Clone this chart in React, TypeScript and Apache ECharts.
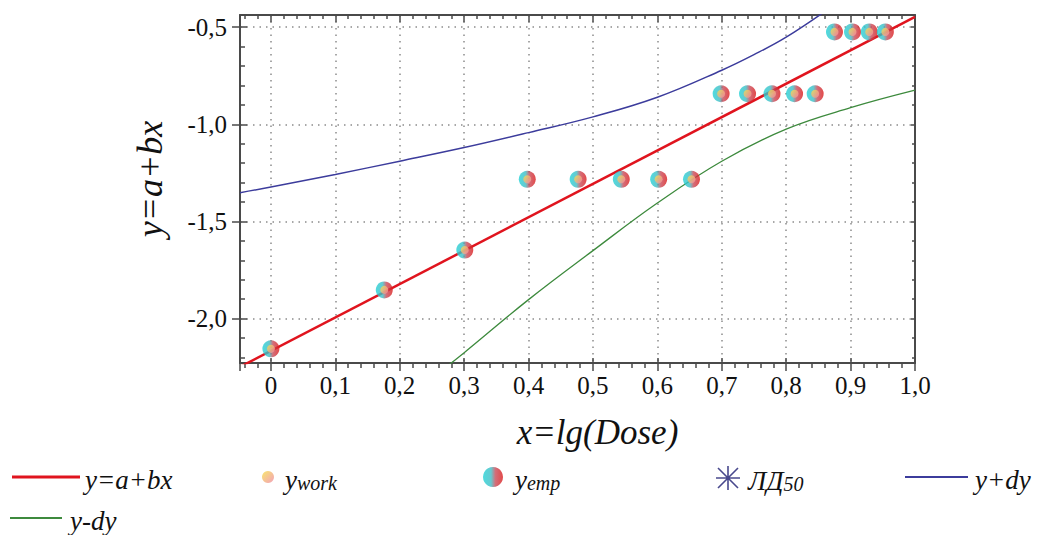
import React, { useEffect, useRef } from 'react';
import * as echarts from 'echarts';

// ---- data ----
const doseLg = [0, 0.176, 0.301, 0.398, 0.477, 0.544, 0.602, 0.653, 0.699, 0.74, 0.778, 0.813, 0.845, 0.875, 0.903, 0.929, 0.954];
const yEmp = [-2.155, -1.852, -1.647, -1.283, -1.283, -1.283, -1.283, -1.283, -0.843, -0.843, -0.843, -0.843, -0.843, -0.525, -0.525, -0.525, -0.525];
const yWork = [-2.155, -1.852, -1.647, -1.283, -1.283, -1.283, -1.283, -1.283, -0.843, -0.843, -0.843, -0.843, -0.843, -0.525, -0.525, -0.525, -0.525];
const fitX = [-0.048, 1.0];
const fitY = [-2.248, -0.448];
const upperX = [-0.048, 0, 0.1, 0.2, 0.3, 0.4, 0.5, 0.6, 0.7, 0.75, 0.8, 0.86];
const upperY = [-1.352, -1.323, -1.258, -1.19, -1.12, -1.043, -0.962, -0.861, -0.722, -0.642, -0.552, -0.42];
const lowerX = [0.26, 0.3, 0.4, 0.5, 0.6, 0.7, 0.8, 0.9, 1.0];
const lowerY = [-2.28, -2.175, -1.902, -1.65, -1.405, -1.19, -1.025, -0.915, -0.825];
const xRange = [-0.048, 1.0];
const yRange = [-2.228, -0.438];
const seriesNames = ['y=a+bx', 'ywork', 'yemp', 'ЛД50', 'y+dy', 'y-dy'];
const xTitle = 'x=lg(Dose)';
const yTitle = 'y=a+bx';

const zip = (xs: number[], ys: number[]) => xs.map((x, i) => [x, ys[i]]);

const SERIF = "'Liberation Serif', 'Times New Roman', Times, serif";
const AX = '#4a4a4a';
const fmt = (v: number) => (Math.abs(v) < 1e-9 ? '0' : v.toFixed(1).replace('.', ','));

const starPath =
  'path://M-0.8,-12 L0.8,-12 L0.8,12 L-0.8,12 Z ' +
  'M-12,-0.8 L12,-0.8 L12,0.8 L-12,0.8 Z ' +
  'M-9.43,-10.57 L10.57,9.43 L9.43,10.57 L-10.57,-9.43 Z ' +
  'M-10.57,9.43 L9.43,-10.57 L10.57,-9.43 L-9.43,10.57 Z';

const empColor = {
  type: 'linear', x: 0, y: 0, x2: 1, y2: 0,
  colorStops: [
    { offset: 0, color: '#22d2d6' },
    { offset: 0.4, color: '#3fbcc4' },
    { offset: 0.62, color: '#c84a58' },
    { offset: 1, color: '#dc1c1c' },
  ],
};
const workColor = {
  type: 'linear', x: 0, y: 0, x2: 1, y2: 1,
  colorStops: [
    { offset: 0, color: '#f6e04a' },
    { offset: 1, color: '#f08aa8' },
  ],
};

const rich = {
  b: { fontFamily: SERIF, fontStyle: 'italic', fontSize: 27, lineHeight: 32, color: '#111', verticalAlign: 'bottom' },
  s: { fontFamily: SERIF, fontStyle: 'italic', fontSize: 20, lineHeight: 20, color: '#111', verticalAlign: 'bottom' },
};

const legendFormatter = (name: string) => {
  if (name === 'ywork') return '{b|y}{s|work}';
  if (name === 'yemp') return '{b|y}{s|emp}';
  if (name === 'ЛД50') return '{b|ЛД}{s|50}';
  return '{b|' + name + '}';
};

function mkLegend(name: string, left: number, top: number, w: number, h: number, pad: number, icon: string) {
  return {
    show: true,
    selectedMode: false,
    left,
    top,
    padding: 0,
    itemWidth: w,
    itemHeight: h,
    data: [{ name, icon }],
    formatter: legendFormatter,
    textStyle: { rich, padding: [0, 0, 0, pad] },
  };
}

export default function App() {
  const ref = useRef<HTMLDivElement>(null);
  useEffect(() => {
    if (!ref.current) return;
    const chart = echarts.init(ref.current, undefined, { renderer: 'svg' });
    const labelStyle = { fontFamily: SERIF, fontSize: 25, color: '#111' };
    const lineSt = { color: AX, width: 2 };
    const tickSt = { color: AX, width: 1.5 };
    const split = { show: true, lineStyle: { color: '#8c8c8c', width: 1.5, type: [1.5, 5] } };
    const base = (min: number, max: number, splitNumber: number) => ({
      type: 'value', min, max, splitNumber, scale: true,
    });
    const option: any = {
      animation: false,
      backgroundColor: '#ffffff',
      textStyle: { fontFamily: SERIF },
      grid: { left: 240, right: 134, top: 15, bottom: 172, containLabel: false },
      xAxis: [
        {
          ...base(xRange[0], xRange[1], 10),
          position: 'bottom',
          axisLine: { show: true, onZero: false, lineStyle: lineSt },
          axisTick: { show: true, inside: false, length: 8, lineStyle: tickSt },
          minorTick: { show: true, splitNumber: 5, length: 5, lineStyle: tickSt },
          axisLabel: { ...labelStyle, margin: 10, formatter: fmt, showMinLabel: false, showMaxLabel: true },
          splitLine: split,
          name: xTitle,
          nameLocation: 'middle',
          nameGap: 52,
          nameTextStyle: { fontFamily: SERIF, fontStyle: 'italic', fontSize: 35, color: '#111', padding: [0, 0, 0, 40] },
        },
        {
          ...base(xRange[0], xRange[1], 10),
          position: 'bottom',
          axisLine: { show: false, onZero: false },
          axisTick: { show: true, inside: true, length: 5, lineStyle: tickSt },
          axisLabel: { show: false },
          splitLine: { show: false },
        },
        {
          ...base(xRange[0], xRange[1], 10),
          position: 'top',
          axisLine: { show: true, onZero: false, lineStyle: lineSt },
          axisTick: { show: true, inside: true, length: 7, lineStyle: tickSt },
          minorTick: { show: true, splitNumber: 5, length: 4, lineStyle: tickSt },
          axisLabel: { show: false },
          splitLine: { show: false },
        },
      ],
      yAxis: [
        {
          ...base(yRange[0], yRange[1], 4),
          position: 'left',
          axisLine: { show: true, onZero: false, lineStyle: lineSt },
          axisTick: { show: true, inside: false, length: 8, lineStyle: tickSt },
          axisLabel: { ...labelStyle, margin: 13, formatter: fmt, showMinLabel: false, showMaxLabel: false },
          splitLine: split,
          name: yTitle,
          nameLocation: 'middle',
          nameGap: 72,
          nameTextStyle: { fontFamily: SERIF, fontStyle: 'italic', fontSize: 36, color: '#111', padding: [0, 0, 0, 20] },
        },
        {
          ...base(yRange[0], yRange[1], 4),
          position: 'left',
          axisLine: { show: false, onZero: false },
          axisTick: { show: true, inside: true, length: 7, lineStyle: tickSt },
          minorTick: { show: true, splitNumber: 5, length: 5, lineStyle: tickSt },
          axisLabel: { show: false },
          splitLine: { show: false },
        },
        {
          ...base(yRange[0], yRange[1], 4),
          position: 'right',
          axisLine: { show: true, onZero: false, lineStyle: lineSt },
          axisTick: { show: true, inside: true, length: 4, lineStyle: tickSt },
          minorTick: { show: true, splitNumber: 5, length: 3, lineStyle: tickSt },
          axisLabel: { show: false },
          splitLine: { show: false },
        },
      ],
      legend: [
        mkLegend(seriesNames[0], 12, 466, 68, 3, 0, 'rect'),
        mkLegend(seriesNames[1], 262, 466, 12, 12, 6, 'circle'),
        mkLegend(seriesNames[2], 483, 466, 20, 20, 7, 'circle'),
        mkLegend(seriesNames[3], 716, 466, 24, 24, 3, starPath),
        mkLegend(seriesNames[4], 905, 466, 63, 2, 2, 'rect'),
        mkLegend(seriesNames[5], 10, 507, 52, 2, 3, 'rect'),
      ],
      series: [
        {
          name: seriesNames[0], type: 'line', data: zip(fitX, fitY), symbol: 'none', z: 3,
          lineStyle: { color: '#e0141e', width: 2.5 }, itemStyle: { color: '#e0141e' },
        },
        {
          name: seriesNames[1], type: 'scatter', data: zip(doseLg, yWork), symbol: 'circle', symbolSize: 8, z: 6,
          itemStyle: { color: workColor },
        },
        {
          name: seriesNames[2], type: 'scatter', data: zip(doseLg, yEmp), symbol: 'circle', symbolSize: 17, z: 5,
          itemStyle: { color: empColor },
        },
        {
          name: seriesNames[3], type: 'scatter', data: [], symbol: starPath, symbolSize: 24,
          itemStyle: { color: '#1c1c70' },
        },
        {
          name: seriesNames[4], type: 'line', data: zip(upperX, upperY), symbol: 'none', smooth: 0.4, z: 2,
          lineStyle: { color: '#3c3c9c', width: 1.5 }, itemStyle: { color: '#3c3c9c' },
        },
        {
          name: seriesNames[5], type: 'line', data: zip(lowerX, lowerY), symbol: 'none', smooth: 0.4, z: 2,
          lineStyle: { color: '#3d8a3d', width: 1.3 }, itemStyle: { color: '#3d8a3d' },
        },
      ],
    };
    chart.setOption(option);
    return () => chart.dispose();
  }, []);
  return (
    <div
      ref={ref}
      style={{ position: 'absolute', left: 0, top: 0, width: 1049, height: 535, background: '#fff' }}
    />
  );
}
